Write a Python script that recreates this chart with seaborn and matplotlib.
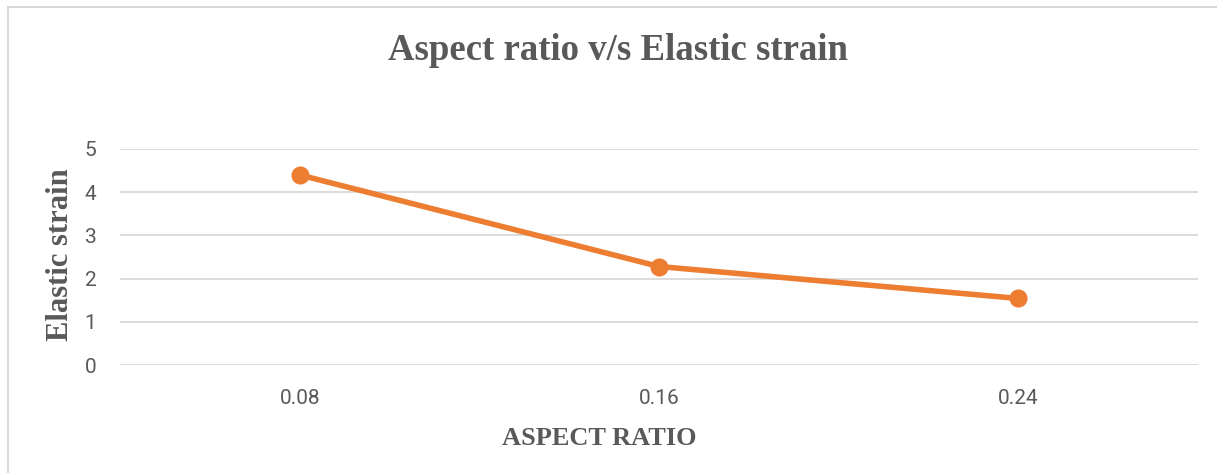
import matplotlib
matplotlib.use("Agg")
import matplotlib.pyplot as plt
import seaborn as sns
import pandas as pd
from matplotlib.patches import Rectangle

aspect_ratio = ["0.08", "0.16", "0.24"]
elastic_strain = [4.40, 2.28, 1.54]
y_ticks = [0, 1, 2, 3, 4, 5]

df = pd.DataFrame({"Aspect ratio": aspect_ratio, "Elastic strain": elastic_strain})

sns.set_theme(style="white")
plt.rcParams['font.family'] = ['Roboto', 'DejaVu Sans']

W, H = 1217, 473
fig = plt.figure(figsize=(W / 100, H / 100), dpi=100)
ax = fig.add_axes([120 / W, (H - 365) / H, (1198 - 120) / W, (365 - 149) / H])

sns.pointplot(data=df, x="Aspect ratio", y="Elastic strain", color="#ED7D31",
              markers="o", markersize=10, linewidth=4, ax=ax)

ax.set_ylim(0, 5)
ax.set_xlim(-0.5, 2.5)
ax.set_yticks(y_ticks)
for y in y_ticks:
    ax.axhline(y, color="#D9D9D9", linewidth=1.3, zorder=0)
for s in ax.spines.values():
    s.set_visible(False)
ax.tick_params(axis="both", length=0, labelsize=15, colors="#595959")
ax.tick_params(axis="y", pad=17)
ax.tick_params(axis="x", pad=17)
ax.set_xlabel("")
ax.set_ylabel("")

serif = ["Liberation Serif", "DejaVu Serif"]
fig.text(618 / W, 1 - 50 / H, "Aspect ratio v/s Elastic strain", ha="center", va="center",
         fontsize=26.5, fontweight="bold", color="#595959", family=serif)
fig.text(60 / W, 1 - 255 / H, "Elastic strain", ha="center", va="center", rotation=90,
         fontsize=22, fontweight="bold", color="#595959", family=serif)
fig.text(599 / W, 1 - 438 / H, "ASPECT RATIO", ha="center", va="center",
         fontsize=19, fontweight="bold", color="#595959", family=serif)

fig.patches.append(Rectangle((8 / W, -0.1), 1.2, (1 - 7 / H) + 0.1, transform=fig.transFigure,
                             fill=False, edgecolor="#D9D9D9", linewidth=1.5))

fig.savefig("out.png", dpi=100)
